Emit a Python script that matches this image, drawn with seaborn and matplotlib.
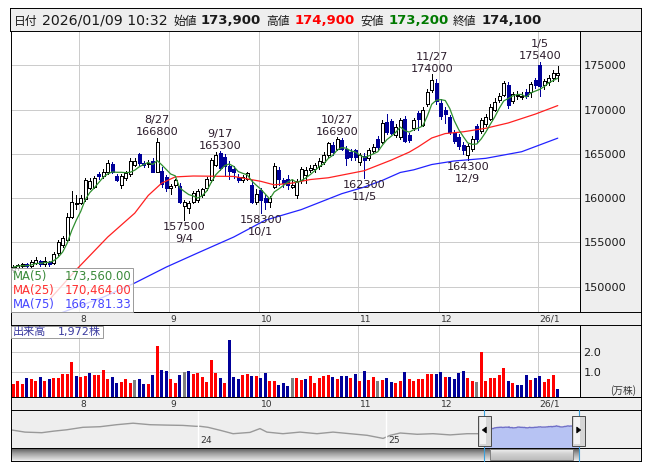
import numpy as np
import pandas as pd
import matplotlib
matplotlib.use("Agg")
import matplotlib.pyplot as plt
import seaborn as sns
from matplotlib.patches import Rectangle, Polygon
from matplotlib.lines import Line2D
from matplotlib.colors import LinearSegmentedColormap

sns.set_theme(style="white")
plt.rcParams["font.family"] = ["DejaVu Sans", "Noto Sans CJK JP"]

# ---------------- data ----------------
holidays = ["2025-07-21", "2025-08-11", "2025-09-15", "2025-09-23", "2025-10-13",
            "2025-11-03", "2025-11-24", "2025-12-31", "2026-01-01", "2026-01-02"]
dates = pd.bdate_range("2025-07-10", "2026-01-09").difference(pd.DatetimeIndex(holidays))

opens = [151900, 152100, 152300, 152500, 152300, 152700, 152900, 152500, 152800, 152700,
         153800, 154700, 155300, 157900, 159300, 159500, 159900, 161200, 161300, 162700,
         162500, 162900, 163900, 162500, 161500, 162300, 162700, 163800, 165000, 164000,
         163900, 164200, 163000, 163100, 162400, 161200, 161500, 161400, 159100, 158900,
         159600, 159800, 160300, 161100, 162000, 163800, 165100, 164600, 163600, 163300,
         162400, 162000, 162200, 161500, 159600, 160900, 160000, 159600, 161300, 163200,
         162000, 162200, 161300, 160400, 162000, 162600, 163200, 163300, 163600, 164100,
         164900, 166000, 165600, 166600, 165600, 165200, 165400, 164100, 164800, 164500,
         165300, 166700, 166400, 168600, 168700, 167100, 166900, 169000, 167100, 167900,
         169600, 168300, 170600, 172200, 173000, 170800, 170000, 169200, 167400, 166900,
         166000, 164900, 165500, 168100, 167600, 168400, 169000, 170000, 171100, 171700,
         172800, 171000, 171500, 171400, 172000, 172000, 173400, 175100, 172800, 173100,
         173600, 173900]
highs = [152400, 152600, 152700, 152700, 153000, 153300, 153000, 153300, 152900, 153900,
         155300, 155700, 158300, 160800, 160300, 160400, 162300, 162300, 162500, 163000,
         163300, 164300, 164100, 162700, 162700, 163100, 164500, 164500, 165100, 164200,
         164300, 164500, 166800, 163500, 162600, 161600, 162200, 161700, 159800, 159700,
         160800, 161000, 161200, 162400, 164500, 165200, 165300, 165000, 164200, 163600,
         162700, 162600, 163000, 162000, 161000, 161200, 160300, 160200, 164000, 163500,
         162300, 162600, 162000, 162200, 163500, 163500, 163700, 164000, 164500, 165200,
         166400, 166300, 166900, 166800, 165900, 165500, 165600, 165100, 165100, 165700,
         166100, 167000, 168800, 169500, 169000, 168400, 169100, 169300, 167400, 169100,
         169800, 170300, 172300, 174000, 173500, 171200, 170300, 169400, 167700, 167200,
         166300, 166100, 167000, 168400, 169100, 169500, 170600, 171300, 171900, 173300,
         173100, 172000, 172100, 172000, 172300, 173100, 173600, 175400, 173500, 173900,
         174500, 174900]
lows = [151700, 151900, 152100, 152100, 152100, 152500, 152300, 152300, 152300, 152600,
        153600, 154500, 155200, 157700, 158800, 159300, 159700, 161000, 161100, 162200,
        162300, 162700, 162800, 161900, 161100, 162000, 162500, 163600, 163800, 163500,
        163500, 162900, 162900, 161300, 160800, 160500, 161300, 159400, 157500, 158300,
        159400, 159600, 160100, 160900, 161800, 163600, 163200, 162500, 162200, 162300,
        161800, 161800, 162000, 159400, 159300, 158300, 158800, 159000, 161100, 161500,
        161300, 161000, 161100, 160000, 161700, 161700, 162900, 163000, 163300, 163900,
        164700, 164900, 165400, 165400, 163700, 164300, 164300, 163800, 162300, 164300,
        165100, 165600, 166200, 167200, 167200, 166900, 166700, 166300, 166300, 167700,
        167700, 168100, 170400, 172000, 170700, 169000, 168500, 167200, 166200, 165600,
        165000, 164300, 165300, 166400, 167400, 168200, 168800, 169800, 170900, 171500,
        170200, 170800, 171200, 171200, 171300, 171400, 172500, 171500, 172300, 172800,
        173300, 173200]
closes = [152200, 152400, 152500, 152300, 152800, 153000, 152500, 152900, 152500, 153700,
          155000, 155500, 157900, 159600, 159500, 160000, 162100, 161900, 162300, 162500,
          163000, 164000, 163000, 162100, 162500, 162800, 164200, 164200, 164000, 163800,
          164000, 163000, 166400, 161600, 161200, 161400, 162000, 159600, 159600, 159400,
          160600, 160800, 161000, 162200, 164300, 164900, 163400, 163600, 163100, 162900,
          162000, 162400, 162800, 159600, 160500, 159800, 159600, 160000, 163600, 162200,
          161700, 161500, 161500, 161900, 163300, 163200, 163400, 163700, 164200, 164900,
          166200, 165200, 166700, 165600, 164500, 164700, 164600, 164900, 164300, 165400,
          165800, 165800, 168500, 167500, 167400, 168000, 168800, 166500, 166600, 168800,
          168900, 170000, 172000, 173400, 171000, 169300, 169500, 167500, 166500, 165900,
          165400, 165900, 166700, 166700, 168800, 169200, 170300, 170900, 171600, 173000,
          170500, 171800, 171700, 171600, 171500, 172900, 172800, 172700, 173200, 173600,
          174200, 174100]
# volume in units of 10,000 shares
volume = [0.44, 0.58, 0.44, 0.71, 0.68, 0.55, 0.76, 0.58, 0.68, 0.71,
          0.73, 0.92, 0.92, 1.50, 0.82, 0.77, 0.82, 0.97, 0.87, 0.87,
          1.11, 0.68, 0.77, 0.48, 0.53, 0.68, 0.48, 0.63, 0.68, 0.44,
          0.44, 0.87, 2.27, 1.11, 1.06, 0.68, 0.48, 0.87, 1.02, 1.06,
          0.92, 0.97, 0.77, 0.53, 1.60, 0.97, 0.73, 0.48, 2.56, 0.77,
          0.68, 0.87, 0.92, 0.82, 0.82, 0.73, 0.97, 0.58, 0.58, 0.39,
          0.48, 0.34, 0.73, 0.73, 0.63, 0.68, 0.82, 0.48, 0.73, 0.80,
          0.87, 0.77, 0.68, 0.82, 0.82, 0.73, 0.92, 0.58, 1.06, 0.63,
          0.77, 0.58, 0.63, 0.73, 0.53, 0.48, 0.58, 1.02, 0.68, 0.58,
          0.68, 0.68, 0.92, 0.92, 0.92, 1.02, 0.77, 0.77, 0.68, 0.97,
          1.06, 0.73, 0.58, 0.53, 1.98, 0.58, 0.73, 0.73, 0.87, 1.21,
          0.58, 0.48, 0.39, 0.39, 0.87, 0.63, 0.73, 0.82, 0.53, 0.68,
          0.87, 0.1972]
# r = close up, b = close down, g = unchanged (vs previous session)
vol_dir = ("rrrbrrbrbr" "rrrrbrrbrr" "rrbbrrrgbb" "rbrbbrrbgb" "rrrrrrbrbb"
           "brrbrbbrrb" "bbgrrbrrrr" "rbrbbrbrbr" "rgrbbrrbrr" "rrrrbbrbbb"
           "brrgrrrrrr" "brbbbrbbrr" "rb")

ma25_idx = [8, 14, 21, 27, 30, 33, 36, 40, 49, 55, 58, 62, 66, 70, 75, 78, 82,
            84, 88, 90, 93, 96, 100, 105, 110, 116, 121]
ma25_val = [148500, 151900, 155600, 158300, 160300, 161700, 162400, 162500, 162450,
            161900, 161500, 161700, 162100, 162300, 162800, 163100, 163900, 164300,
            165200, 165800, 166800, 167300, 167500, 167900, 168500, 169500, 170464.00]
ma75_idx = [0, 10, 20, 27, 34, 41, 49, 56, 64, 70, 73, 78, 82, 86, 89, 93, 98,
            105, 113, 121]
ma75_val = [145000, 146900, 148800, 150400, 152200, 153800, 155600, 157500, 158700,
            159900, 160500, 161250, 162000, 162900, 163200, 163800, 164200, 164500,
            165250, 166781.33]

# long-range history shown in the navigator strip
hist_t = [2023.004, 2023.081, 2023.170, 2023.235, 2023.302, 2023.389, 2023.480, 2023.568,
          2023.655, 2023.745, 2023.834, 2023.920, 2023.989, 2024.011, 2024.053, 2024.122,
          2024.186, 2024.276, 2024.329, 2024.366, 2024.451, 2024.542, 2024.632, 2024.717,
          2024.807, 2024.898, 2024.983, 2025.021, 2025.074, 2025.164, 2025.248, 2025.339,
          2025.429, 2025.493]
hist_v = [146700, 131300, 127300, 138000, 146700, 163300, 167300, 180700, 190700, 180700,
          178000, 176000, 170000, 170000, 163300, 142000, 120700, 129300, 154700, 131300,
          120700, 131300, 120700, 131300, 120700, 110000, 89300, 110000, 125300, 116700,
          120700, 112700, 120700, 120700]

peak_days = ["2025-08-27", "2025-09-17", "2025-10-27", "2025-11-27", "2026-01-05"]
trough_days = ["2025-09-04", "2025-10-01", "2025-11-05", "2025-12-09"]
month_labels = ["8", "9", "10", "11", "12", "26/1"]
price_ticks = [150000, 155000, 160000, 165000, 170000, 175000]
vol_ticks = [1.0, 2.0]
quote_time = "2026/01/09 10:32"

# ---------------- styling ----------------
W, H = 653, 470
SLOT = 4.5                     # pixels per session
NAVY = "#000099"
GREEN, RED, BLUE = "#2f8f2f", "#ff2020", "#2222ff"
GRID = "#cccccc"
PANEL = "#eeeeee"
TXT = "#1a1a1a"
LBL = "#2b1b2b"
CJK = ["Noto Sans CJK JP", "DejaVu Sans"]
THIN = 0.55                    # about one device pixel

o, h, l, c = (np.array(a, float) for a in (opens, highs, lows, closes))
vol = np.array(volume)
n = len(c)
x = np.arange(n) + 0.5
ma5 = pd.Series(c).rolling(5, min_periods=1).mean().to_numpy()
month_pos = np.flatnonzero(np.r_[False, dates.month[1:] != dates.month[:-1]])

fig = plt.figure(figsize=(W / 100, H / 100), dpi=100)
fig.patch.set_facecolor("white")


def add_ax(x0, y0, x1, y1, fc=PANEL):
    ax = fig.add_axes([x0 / W, 1 - y1 / H, (x1 - x0) / W, (y1 - y0) / H])
    ax.set_facecolor(fc)
    ax.set_xticks([])
    ax.set_yticks([])
    for s in ax.spines.values():
        s.set_color("black")
        s.set_linewidth(0.7)
    return ax


def ftext(xp, yp, s, **kw):
    return fig.text(xp / W, 1 - yp / H, s, **kw)


def fig_rect(x0, y0, x1, y1, **kw):
    r = Rectangle((x0 / W, 1 - y1 / H), (x1 - x0) / W, (y1 - y0) / H,
                  transform=fig.transFigure, **kw)
    fig.add_artist(r)
    return r


def fig_line(x0, y0, x1, y1, **kw):
    fig.add_artist(Line2D([x0 / W, x1 / W], [1 - y0 / H, 1 - y1 / H],
                          transform=fig.transFigure, **kw))


# ---------------- quote header ----------------
add_ax(9.5, 8, 641, 31)
base = 24.5
hdr = [("日付", 14, dict(family=CJK, fontsize=8.5, color=TXT)),
       (quote_time, 42, dict(fontsize=10.2, color=TXT)),
       ("始値", 173, dict(family=CJK, fontsize=8.5, color=TXT)),
       (f"{int(o[-1]):,}", 201, dict(fontsize=9.5, weight="bold", color=TXT)),
       ("高値", 266, dict(family=CJK, fontsize=8.5, color=TXT)),
       (f"{int(h[-1]):,}", 294.5, dict(fontsize=9.5, weight="bold", color="#ff0000")),
       ("安値", 360, dict(family=CJK, fontsize=8.5, color=TXT)),
       (f"{int(l[-1]):,}", 388.5, dict(fontsize=9.5, weight="bold", color="#007a00")),
       ("終値", 453, dict(family=CJK, fontsize=8.5, color=TXT)),
       (f"{int(c[-1]):,}", 482, dict(fontsize=9.5, weight="bold", color=TXT))]
for s, xp, kw in hdr:
    ftext(xp, base, s, ha="left", va="baseline", **kw)

# ---------------- price panel ----------------
add_ax(580, 31, 641, 312)
axp = add_ax(11, 31, 580, 312, fc="white")
axp.set_xlim(0, (580 - 11) / SLOT)
axp.set_ylim(147120, 178900)
axp.set_yticks(price_ticks)
axp.set_yticklabels([str(t) for t in price_ticks])
axp.yaxis.tick_right()
axp.tick_params(axis="y", length=0, pad=2.6, labelsize=8.1, labelcolor=TXT)
axp.set_xticks(month_pos)
axp.tick_params(axis="x", length=0, labelbottom=False)
axp.grid(True, color=GRID, lw=THIN, antialiased=False)
axp.set_axisbelow(True)

up = c >= o
body_lo = np.minimum(o, c)
body_h = np.maximum(np.abs(c - o), 110)
axp.vlines(x[up], l[up], h[up], colors="black", lw=THIN, zorder=3, antialiased=False)
axp.vlines(x[~up], l[~up], h[~up], colors=NAVY, lw=THIN, zorder=3, antialiased=False)
axp.bar(x[up], body_h[up], width=0.62, bottom=body_lo[up], color="white",
        edgecolor="black", linewidth=THIN, zorder=4, antialiased=False)
axp.bar(x[~up], body_h[~up], width=0.62, bottom=body_lo[~up], color=NAVY,
        edgecolor=NAVY, linewidth=THIN, zorder=4, antialiased=False)

sns.lineplot(x=np.array(ma75_idx) + 0.5, y=ma75_val, ax=axp, color=BLUE, lw=0.9, zorder=5)
sns.lineplot(x=np.array(ma25_idx) + 0.5, y=ma25_val, ax=axp, color=RED, lw=0.9, zorder=5)
sns.lineplot(x=x, y=ma5, ax=axp, color=GREEN, lw=0.9, zorder=6)
axp.set_xlabel("")
axp.set_ylabel("")

for d in peak_days:
    ts = pd.Timestamp(d)
    i = dates.get_loc(ts)
    axp.annotate(f"{int(h[i])}", (x[i], h[i]), xytext=(0, 2.5), textcoords="offset pixels",
                 ha="center", va="baseline", fontsize=8.1, color=LBL, zorder=7)
    axp.annotate(f"{ts.month}/{ts.day}", (x[i], h[i]), xytext=(0, 14.5),
                 textcoords="offset pixels", ha="center", va="baseline", fontsize=8.1,
                 color=LBL, zorder=7)
for d in trough_days:
    ts = pd.Timestamp(d)
    i = dates.get_loc(ts)
    axp.annotate(f"{int(l[i])}", (x[i], l[i]), xytext=(0, -10), textcoords="offset pixels",
                 ha="center", va="baseline", fontsize=8.1, color=LBL, zorder=7)
    axp.annotate(f"{ts.month}/{ts.day}", (x[i], l[i]), xytext=(0, -22),
                 textcoords="offset pixels", ha="center", va="baseline", fontsize=8.1,
                 color=LBL, zorder=7)

# moving-average readout
fig_rect(11, 268, 133, 312, fc=(1, 1, 1, 0.78), ec="#9a9a9a", lw=0.7, zorder=10)
for row, (name, val, col) in enumerate([("MA(5)", ma5[-1], "#3a8a3a"),
                                        ("MA(25)", ma25_val[-1], "#ff3030"),
                                        ("MA(75)", ma75_val[-1], "#4646ff")]):
    yb = 280 + 13.8 * row
    ftext(12.5, yb, name, ha="left", va="baseline", fontsize=8.4, color=col, zorder=11)
    ftext(131.5, yb, f"{val:,.2f}", ha="right", va="baseline", fontsize=8.4, color=col,
          zorder=11)

# ---------------- month strips ----------------
for (y0, y1) in [(312, 325), (397, 410)]:
    s = add_ax(11, y0, 641, y1)
    s.set_xlim(0, (641 - 11) / SLOT)
    s.set_ylim(0, 1)
    for p, lab in zip(month_pos, month_labels):
        s.text(p + 0.45, 0.45, lab, ha="left", va="center", fontsize=6.6, color="#333333")

# ---------------- volume panel ----------------
add_ax(580, 325, 641, 397)
axv = add_ax(11, 325, 580, 397, fc="white")
axv.set_xlim(0, (580 - 11) / SLOT)
vmin = -0.21
axv.set_ylim(vmin, 3.30)
axv.set_yticks(vol_ticks)
axv.set_yticklabels([f"{t:.1f}" for t in vol_ticks])
axv.yaxis.tick_right()
axv.tick_params(axis="y", length=0, pad=2.6, labelsize=8.1, labelcolor=TXT)
axv.set_xticks(month_pos)
axv.tick_params(axis="x", length=0, labelbottom=False)
axv.grid(True, color=GRID, lw=THIN, antialiased=False)
axv.set_axisbelow(True)
vcol = [{"r": "#ff0000", "b": NAVY, "g": "#808080"}[k] for k in vol_dir]
axv.bar(x, vol - vmin, width=0.62, bottom=vmin, color=vcol, linewidth=0,
        antialiased=False, zorder=3)
ftext(623, 391, "(万株)", ha="center", va="center", fontsize=7, color="#333333",
      family=CJK)
fig_rect(11, 325.5, 103, 337.5, fc=(1, 1, 1, 0.8), ec="#9a9a9a", lw=0.7, zorder=10)
ftext(12.5, 335.5, "出来高", ha="left", va="baseline", fontsize=8, color="#3b3ba0",
      family=CJK, zorder=11)
ftext(58, 335.5, f"{int(round(vol[-1] * 10000)):,}株", ha="left", va="baseline",
      fontsize=8, color="#3b3ba0", zorder=11)

# ---------------- navigator ----------------
PX_YEAR = 188.3
t0 = 2024 - (198 - 10.5) / PX_YEAR
t1 = 2024 + (641 - 198) / PX_YEAR
axn = add_ax(10.5, 410, 641, 448)
axn.set_xlim(t0, t1)
nav_lo, nav_hi = 25300, 278700
axn.set_ylim(nav_lo, nav_hi)
sns.lineplot(x=hist_t, y=hist_v, ax=axn, color="#999999", lw=1.0)
days_in_year = np.where(dates.is_leap_year, 366, 365)
t_win = dates.year + (dates.dayofyear - 1) / days_in_year
axn.fill_between(t_win, c, nav_lo, color="#b7c3f3", lw=0)
sns.lineplot(x=np.asarray(t_win), y=c, ax=axn, color="#7070c8", lw=1.0)
axn.set_xlabel("")
axn.set_ylabel("")
for yr, lab in [(2024, "24"), (2025, "25")]:
    axn.axvline(yr, color="white", lw=1.0)
    axn.text(yr + 0.01, 0.2, lab, ha="left", va="center", fontsize=6.6, color="#333333",
             transform=axn.get_xaxis_transform())

# scrollbar
axs = add_ax(10.5, 448, 641, 460.5)
axs.set_xlim(10.5, 641)
axs.set_ylim(0, 1)
grad = np.linspace(0, 1, 24).reshape(-1, 1)
track = LinearSegmentedColormap.from_list("track", ["#4a4a4a", "#a0a0a0", "#e0e0e0"])
thumb = LinearSegmentedColormap.from_list("thumb", ["#f6f6f6", "#d0d0d0", "#bdbdbd"])
win_l = 10.5 + (t_win[0] - t0) * PX_YEAR
win_r = 10.5 + (t_win[-1] - t0) * PX_YEAR
axs.imshow(grad, extent=(10.5, win_l + 6, 0, 1), aspect="auto", cmap=track, origin="upper")
axs.imshow(grad, extent=(win_r - 6, win_r, 0, 1), aspect="auto", cmap=track, origin="upper")
axs.imshow(grad, extent=(win_l + 6, win_r - 6, 0.04, 0.96), aspect="auto", cmap=thumb,
           origin="upper")
axs.add_patch(Rectangle((win_l + 6, 0.04), (win_r - win_l) - 12, 0.92, fill=False,
                        ec="#808080", lw=0.7))
axs.set_xlim(10.5, 641)
axs.set_ylim(0, 1)

# window edges and drag handles
for xe in (win_l, win_r):
    fig_line(xe, 410, xe, 460.5, color="#3aa0dc", lw=0.8, zorder=7)
for xc, direction in ((win_l, -1), (win_r, 1)):
    fig_rect(xc - 6.5, 415.5, xc + 6.5, 445.5, fc="#d6d6d6", ec="#4a4a4a", lw=0.7, zorder=8)
    fig_rect(xc - 4.5, 417, xc + 1.5, 444, fc="#f2f2f2", ec="none", zorder=8)
    tri = np.array([[xc - 2 * direction, 427], [xc - 2 * direction, 433],
                    [xc + 2 * direction, 430]])
    fig.add_artist(Polygon(np.c_[tri[:, 0] / W, 1 - tri[:, 1] / H], closed=True,
                           transform=fig.transFigure, fc="black", ec="black", lw=0.5,
                           zorder=9))

fig.savefig("out.png", dpi=100)
